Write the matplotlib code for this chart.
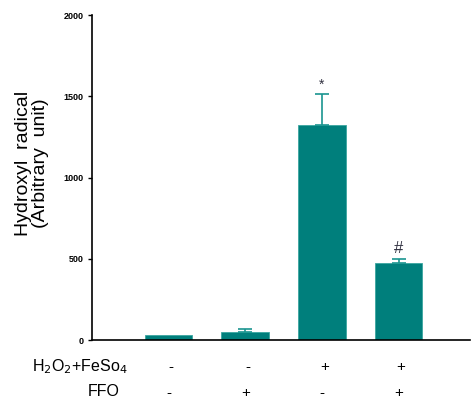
import matplotlib
matplotlib.use("Agg")
import matplotlib.pyplot as plt

plt.rcParams["font.family"] = ["Liberation Sans", "DejaVu Sans"]

categories = ["Control", "FFO", "H2O2+FeSO4", "H2O2+FeSO4+FFO"]
values = [30, 48, 1323, 472]
errors = [0, 20, 190, 27]
row_h2o2 = ["-", "-", "+", "+"]
row_ffo = ["-", "+", "-", "+"]
marks = ["", "", "*", "#"]
yticks = [0, 500, 1000, 1500, 2000]

teal = "#007f7c"
fig = plt.figure(figsize=(4.71, 4.07), dpi=100)
ax = fig.add_axes([0.195, 0.1646, 0.803, 0.7984])
x = list(range(len(categories)))
ax.bar(x, values, width=0.62, color=teal, edgecolor="#3aa5a0", linewidth=0.6, zorder=2)
for xi, v, e in zip(x, values, errors):
    if e > 0:
        ax.errorbar([xi], [v], yerr=[[0], [e]], fmt="none", ecolor="#1a9590",
                    elinewidth=1.2, capsize=5, capthick=1.2, zorder=3)
for xi, v, e, m in zip(x, values, errors, marks):
    if m:
        ax.text(xi, v + e + 15, m, ha="center", va="bottom", fontsize=12 if m == "#" else 10,
                color="#303040")
ax.set_xlim(-1.0, 3.93)
ax.set_ylim(0, 2000)
ax.set_yticks(yticks)
ax.set_yticklabels([str(t) for t in yticks], fontsize=6.5, fontweight="bold")
ax.set_xticks([])
ax.spines["top"].set_visible(False)
ax.spines["right"].set_visible(False)
ax.spines["left"].set_linewidth(1.2)
ax.spines["bottom"].set_linewidth(1.2)
ax.tick_params(axis="y", direction="out", length=3, width=1, pad=3)
fig.text(32 / 471, 1 - 163 / 407, "Hydroxyl  radical\n(Arbitrary  unit)", rotation=90,
         ha="center", va="center", fontsize=14, linespacing=1.05)

trans = ax.get_xaxis_transform()
for xi, s in zip(x, row_h2o2):
    ax.text(xi + 0.03, -0.082, s, transform=trans, ha="center", va="center", fontsize=11)
for xi, s in zip(x, row_ffo):
    ax.text(xi + 0.0, -0.162, s, transform=trans, ha="center", va="center", fontsize=11)
fig.text(80 / 471, 1 - 367 / 407, "H$_2$O$_2$+FeSo$_4$", ha="center", va="center", fontsize=11.5,
         math_fontfamily="custom")
fig.text(104 / 471, 1 - 392 / 407, "FFO", ha="center", va="center", fontsize=11.5)

fig.savefig("out.png", dpi=100)
